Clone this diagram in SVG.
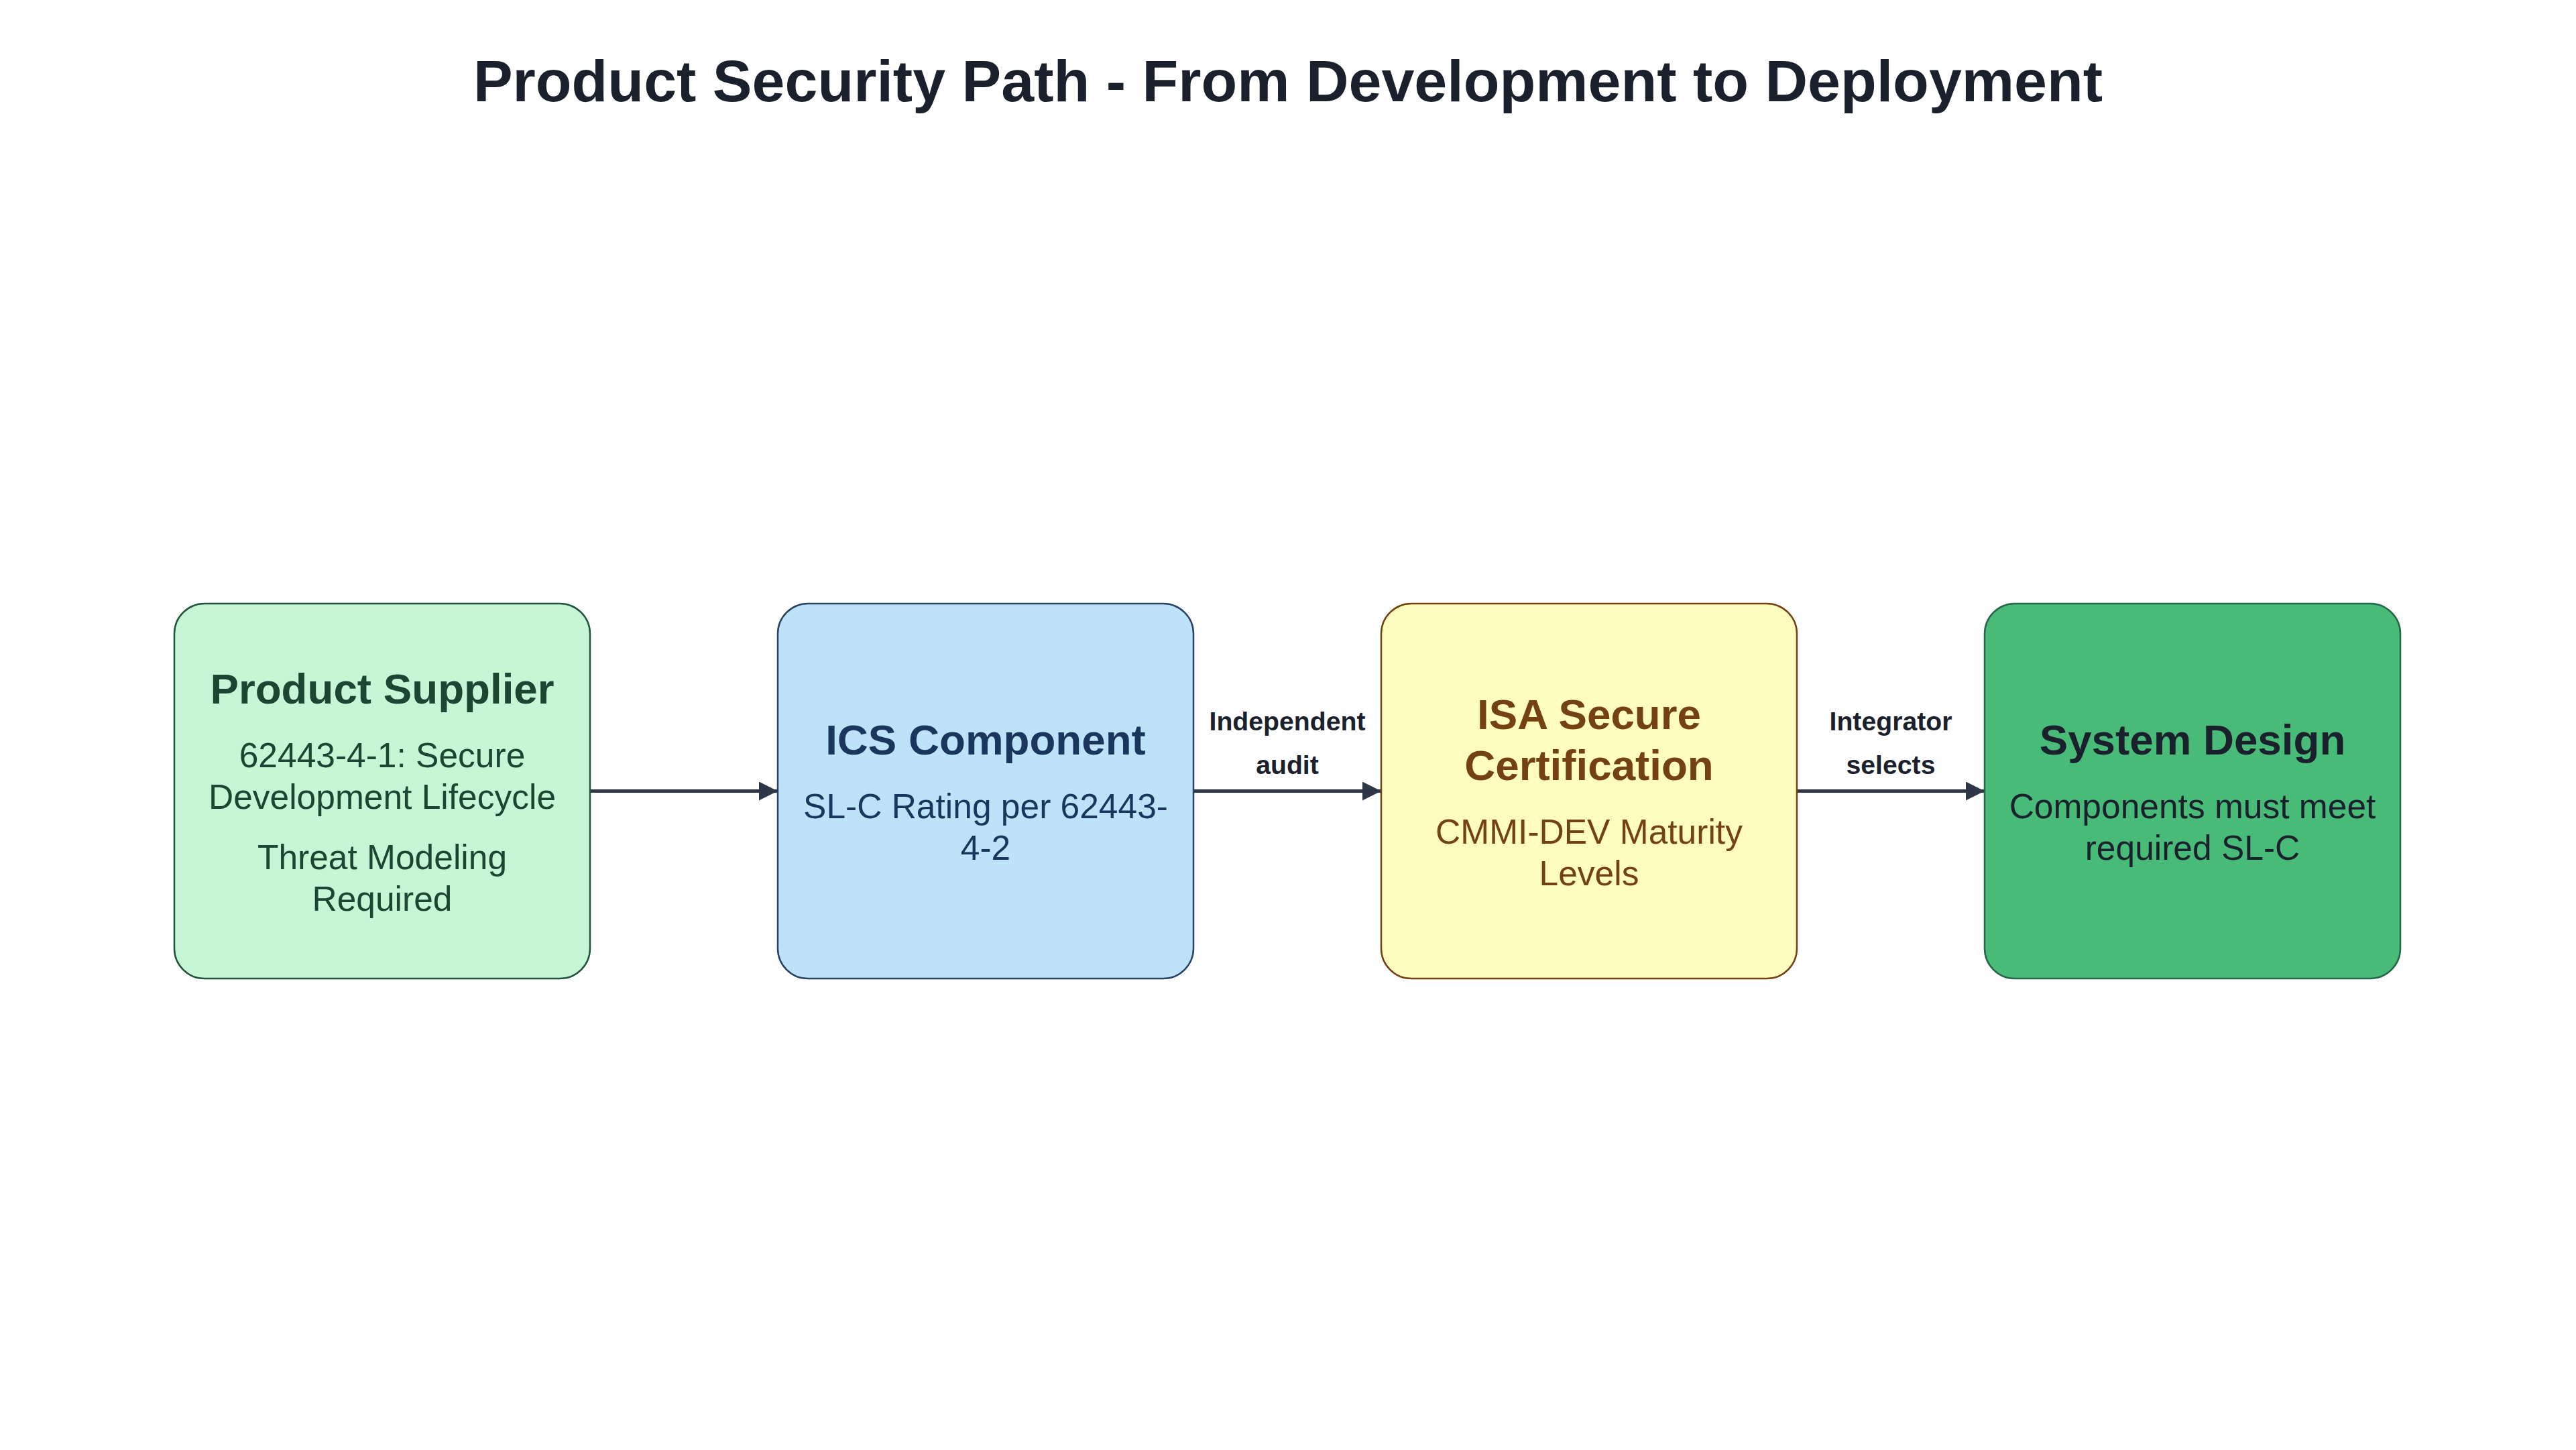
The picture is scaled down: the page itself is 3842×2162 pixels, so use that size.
<svg xmlns="http://www.w3.org/2000/svg" width="3842" height="2162" viewBox="0 0 3842 2162">
<style>
  text { font-family: "Liberation Sans", Arial, Helvetica, sans-serif; text-anchor: middle; }
  .title { font-size: 88px; font-weight: bold; fill: #1a202c; }
  .ntitle { font-size: 63.7px; font-weight: bold; }
  .body { font-size: 51.5px; }
  .elabel { font-size: 39.2px; font-weight: bold; fill: #1a202c; }
  .box { stroke-width: 2.5; }
  .edge { stroke: #2d3748; stroke-width: 4.9; fill: none; }
</style>
<defs>
  <marker id="arrow" markerUnits="userSpaceOnUse" markerWidth="30" markerHeight="28" refX="28" refY="14" orient="auto">
    <path d="M0,0 L28,14 L0,28 Z" fill="#2d3748"/>
  </marker>
</defs>
<rect width="3842" height="2162" fill="#ffffff"/>
<text class="title" x="1921" y="151">Product Security Path - From Development to Deployment</text>

<g id="connectors">
  <g id="edge-supplier-component">
    <line class="edge" x1="880" y1="1179.5" x2="1160" y2="1179.5" marker-end="url(#arrow)"/>
  </g>
  <g id="edge-component-cert">
    <line class="edge" x1="1780" y1="1179.5" x2="2060" y2="1179.5" marker-end="url(#arrow)"/>
    <text class="elabel" x="1920" y="1089">Independent</text>
    <text class="elabel" x="1920" y="1154">audit</text>
  </g>
  <g id="edge-cert-system">
    <line class="edge" x1="2680" y1="1179.5" x2="2960" y2="1179.5" marker-end="url(#arrow)"/>
    <text class="elabel" x="2820" y="1089">Integrator</text>
    <text class="elabel" x="2820" y="1154">selects</text>
  </g>
</g>

<g id="node-product-supplier">
  <rect class="box" x="260" y="900" width="620" height="559" rx="45" ry="45" fill="#c6f6d5" stroke="#22543d"/>
  <text class="ntitle" x="570" y="1049" fill="#1c4532">Product Supplier</text>
  <text class="body" x="570" y="1144" fill="#1c4532">62443-4-1: Secure</text>
  <text class="body" x="570" y="1206" fill="#1c4532">Development Lifecycle</text>
  <text class="body" x="570" y="1296" fill="#1c4532">Threat Modeling</text>
  <text class="body" x="570" y="1358" fill="#1c4532">Required</text>
</g>

<g id="node-ics-component">
  <rect class="box" x="1160" y="900" width="620" height="559" rx="45" ry="45" fill="#bee3f8" stroke="#2a4365"/>
  <text class="ntitle" x="1470" y="1125" fill="#1a365d">ICS Component</text>
  <text class="body" x="1470" y="1220" fill="#1a365d">SL-C Rating per 62443-</text>
  <text class="body" x="1470" y="1282" fill="#1a365d">4-2</text>
</g>

<g id="node-isa-secure">
  <rect class="box" x="2060" y="900" width="620" height="559" rx="45" ry="45" fill="#fefcbf" stroke="#744210"/>
  <text class="ntitle" x="2370" y="1086.5" fill="#744210">ISA Secure</text>
  <text class="ntitle" x="2370" y="1163" fill="#744210">Certification</text>
  <text class="body" x="2370" y="1258" fill="#744210">CMMI-DEV Maturity</text>
  <text class="body" x="2370" y="1320" fill="#744210">Levels</text>
</g>

<g id="node-system-design">
  <rect class="box" x="2960" y="900" width="620" height="559" rx="45" ry="45" fill="#48bb78" stroke="#276749"/>
  <text class="ntitle" x="3270" y="1125" fill="#1a202c">System Design</text>
  <text class="body" x="3270" y="1220" fill="#1a202c">Components must meet</text>
  <text class="body" x="3270" y="1282" fill="#1a202c">required SL-C</text>
</g>
</svg>
